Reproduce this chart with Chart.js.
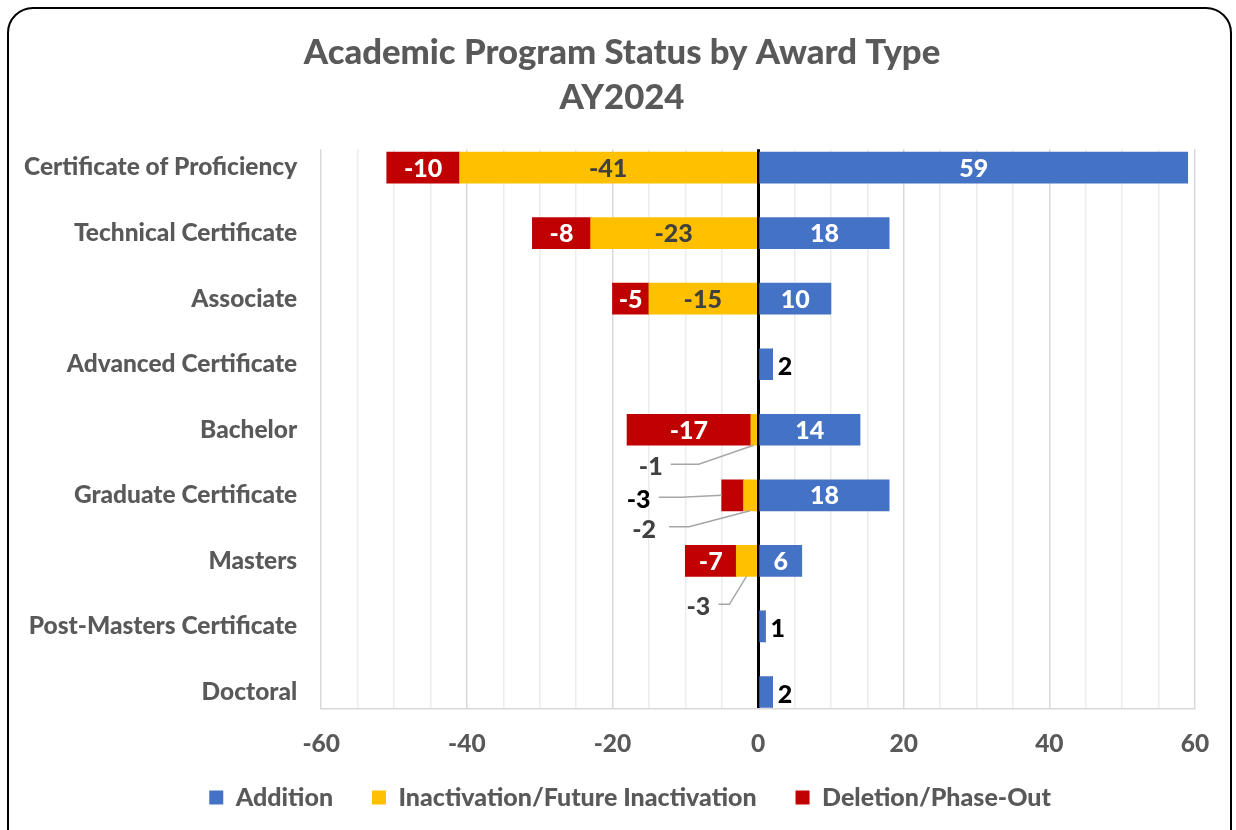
<!DOCTYPE html>
<html>
<head>
<meta charset="utf-8">
<script src="https://cdn.jsdelivr.net/npm/chart.js@4.4.1/dist/chart.umd.min.js"></script>
<style>
  html, body { margin: 0; padding: 0; background: #fff; }
  #wrap { position: relative; width: 1236px; height: 830px; overflow: hidden; }
  #box { position: absolute; left: 0; top: 0; width: 1236px; height: 820px; }
  #frame {
    position: absolute; left: 7px; top: 7px; width: 1225px; height: 860px;
    border: 2px solid #000; border-radius: 26px; box-sizing: border-box; pointer-events: none;
  }
</style>
</head>
<body>
<div id="wrap">
  <div id="box"><canvas id="chart"></canvas></div>
  <div id="frame"></div>
</div>
<script>
const categories = [
  "Certificate of Proficiency", "Technical Certificate", "Associate", "Advanced Certificate",
  "Bachelor", "Graduate Certificate", "Masters", "Post-Masters Certificate", "Doctoral"
];
const addition = [59, 18, 10, 2, 14, 18, 6, 1, 2];
const inactivation = [-41, -23, -15, 0, -1, -2, -3, 0, 0];
const deletion = [-10, -8, -5, 0, -17, -3, -7, 0, 0];
const xTicks = [-60, -40, -20, 0, 20, 40, 60];

const FONT = "Lato, 'Open Sans', sans-serif";
const WEIGHT = "900";
const GRAY = "#595959";

// small labels pulled out of their bars with leader lines (offsets in px from anchor)
const callouts = [
  { ds: 1, idx: 4, anchor: "bottom", lx: -103, ly: 22, ex: -55, ey: 19, sx: -83, color: "#404040" },
  { ds: 2, idx: 5, anchor: "left",   lx: -83,  ly: 5,  ex: -40, ey: 2,  sx: -63, color: "#000" },
  { ds: 1, idx: 5, anchor: "bottom", lx: -106, ly: 19, ex: -61, ey: 16, sx: -81, color: "#404040" },
  { ds: 1, idx: 6, anchor: "bottom", lx: -48,  ly: 31, ex: -17, ey: 28, sx: -28, color: "#404040" }
];

const toPoints = arr => arr.map((v, i) => ({ x: v, y: i }));

const labelPlugin = {
  id: "barLabels",
  afterDatasetsDraw(chart) {
    const ctx = chart.ctx;
    ctx.save();
    ctx.font = WEIGHT + " 25px " + FONT;
    ctx.textBaseline = "middle";
    chart.data.datasets.forEach((ds, di) => {
      const meta = chart.getDatasetMeta(di);
      meta.data.forEach((bar, i) => {
        const v = ds.data[i].x;
        if (!v) return;
        const c = callouts.find(o => o.ds === di && o.idx === i);
        const left = Math.min(bar.x, bar.base), right = Math.max(bar.x, bar.base);
        if (c) {
          let ax = (left + right) / 2, ay = bar.y + bar.height / 2;
          if (c.anchor === "left") { ax = left; ay = bar.y; }
          ctx.strokeStyle = "#a6a6a6";
          ctx.lineWidth = 1.5;
          ctx.beginPath();
          ctx.moveTo(ax + c.sx, ay + c.ey);
          ctx.lineTo(ax + c.ex, ay + c.ey);
          ctx.lineTo(ax, ay);
          ctx.stroke();
          ctx.fillStyle = c.color;
          ctx.textAlign = "center";
          ctx.fillText(String(v), ax + c.lx, ay + c.ly);
          return;
        }
        if (right - left < 25) {
          ctx.fillStyle = "#000";
          ctx.textAlign = "left";
          ctx.fillText(String(v), right + 5, bar.y + 3);
          return;
        }
        ctx.fillStyle = di === 1 ? "#404040" : "#fff";
        ctx.textAlign = "center";
        ctx.fillText(String(v), (left + right) / 2, bar.y + 1);
      });
    });
    ctx.restore();
  }
};

// move title and legend so they sit centred where the original has them
const centerBoxes = {
  id: "centerBoxes",
  afterLayout(chart) {
    const shift = (box, cx) => {
      if (!box) return;
      const d = cx - (box.left + box.right) / 2;
      box.left += d;
      box.right += d;
    };
    shift(chart.titleBlock, 622);
    shift(chart.legend, 636);
  }
};

new Chart(document.getElementById("chart"), {
  type: "bar",
  data: {
    datasets: [
      { label: "Addition", data: toPoints(addition), backgroundColor: "#4472c4" },
      { label: "Inactivation/Future Inactivation", data: toPoints(inactivation), backgroundColor: "#ffc000" },
      { label: "Deletion/Phase-Out", data: toPoints(deletion), backgroundColor: "#c00000" }
    ]
  },
  options: {
    indexAxis: "y",
    responsive: true,
    maintainAspectRatio: false,
    animation: false,
    layout: { padding: { left: 0, right: 41, top: 30, bottom: 0 } },
    datasets: { bar: { barThickness: 31 } },
    scales: {
      x: {
        stacked: true,
        min: -60, max: 60,
        ticks: {
          stepSize: 5,
          color: GRAY,
          font: { family: FONT, size: 24.5, weight: WEIGHT },
          padding: 20,
          autoSkip: false,
          maxRotation: 0,
          callback: v => xTicks.includes(v) ? v : ""
        },
        grid: {
          color: c => c.tick.value === 0 ? "#000" : (c.tick.value % 20 === 0 ? "#d9d9d9" : "#ececec"),
          lineWidth: c => c.tick.value === 0 ? 3 : 1.5,
          drawTicks: false
        },
        border: { color: "#d9d9d9", width: 1.5 },
        afterFit: s => { s.height = 49; }
      },
      y: {
        type: "linear",
        reverse: true,
        stacked: true,
        offset: false,
        min: -0.28, max: 8.26,
        afterBuildTicks: s => { s.ticks = categories.map((_, i) => ({ value: i })); },
        ticks: {
          color: GRAY,
          font: { family: FONT, size: 24.5, weight: WEIGHT },
          padding: 24,
          autoSkip: false,
          callback: v => categories[v]
        },
        grid: { display: false, drawTicks: false },
        border: { display: false }
      }
    },
    plugins: {
      title: {
        display: true,
        text: ["Academic Program Status by Award Type", "AY2024"],
        color: GRAY,
        font: { family: FONT, size: 34.7, weight: WEIGHT, lineHeight: 1.3 },
        padding: { top: 0, bottom: 29 }
      },
      legend: {
        position: "bottom",
        labels: {
          color: GRAY,
          font: { family: FONT, size: 25, weight: WEIGHT },
          boxWidth: 14, boxHeight: 14,
          padding: 27,
          generateLabels: chart => Chart.defaults.plugins.legend.labels.generateLabels(chart)
            .map(l => Object.assign(l, { text: l.text + "  " }))
        }
      },
      tooltip: { enabled: false }
    }
  },
  plugins: [labelPlugin, centerBoxes]
});
</script>
</body>
</html>
